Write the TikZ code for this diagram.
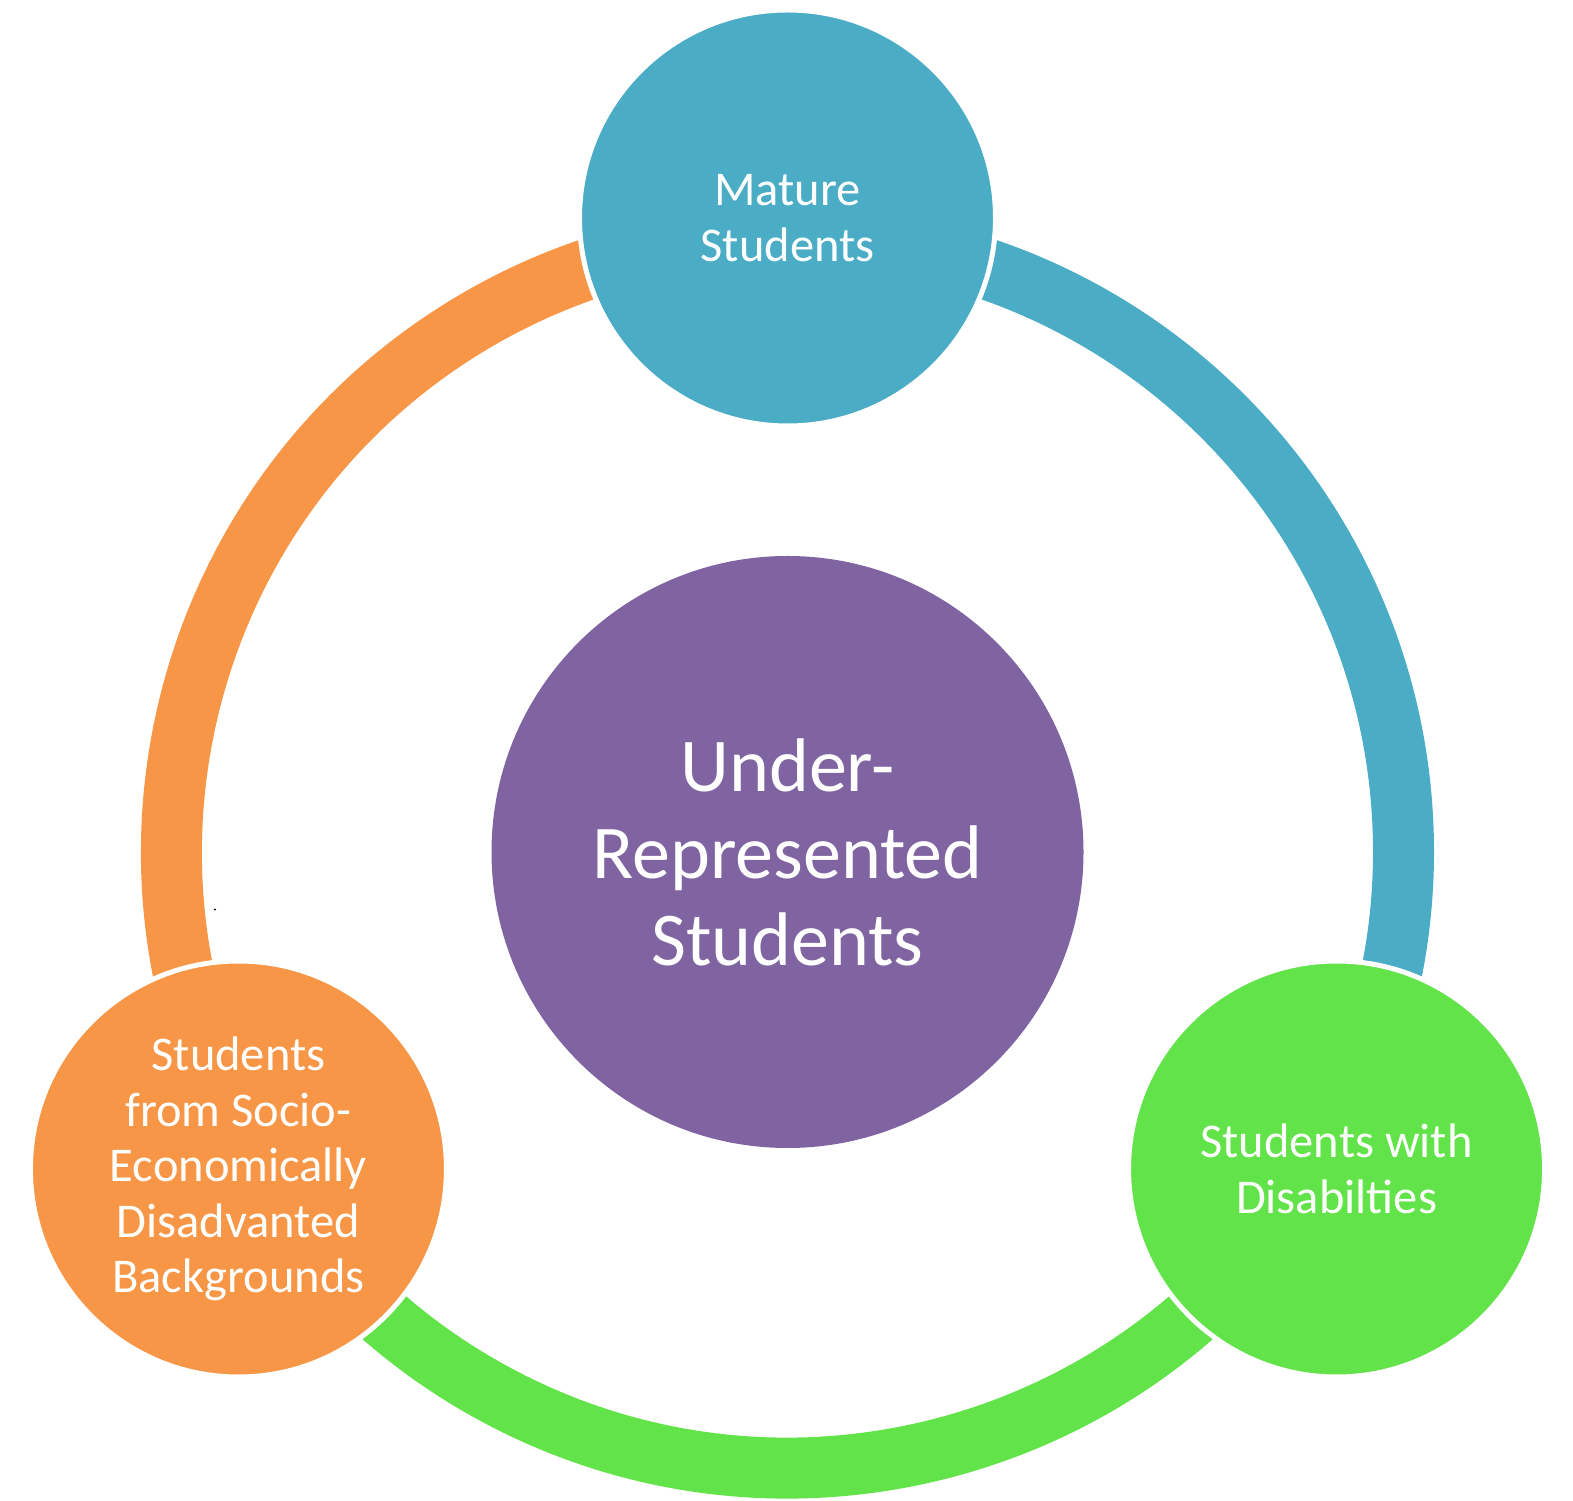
\documentclass[tikz,border=0pt]{standalone}
\usepackage{fontspec}
\setmainfont{Carlito}
\usetikzlibrary{calc}
\definecolor{cblue}{HTML}{4BACC6}
\definecolor{corange}{HTML}{F79646}
\definecolor{cgreen}{HTML}{62E349}
\definecolor{cpurple}{HTML}{8064A2}
\tikzset{
  ringarc/.style={line width=61pt},
  satellite/.style={circle, draw=white, line width=5pt, minimum size=416pt, inner sep=0pt,
    text=white, align=center, font=\fontsize{48.5}{55.5}\selectfont},
  hub/.style={circle, fill=cpurple, minimum size=592pt, inner sep=0pt,
    text=white, align=center, font=\fontsize{76}{87}\selectfont}
}
\begin{document}
\begin{tikzpicture}[x=1pt,y=1pt]
\useasboundingbox (0,0) rectangle (1573,1500);
\coordinate (c) at (787.5,648);
% ring arcs
\draw[ringarc, corange] (c) ++(210:616) arc[start angle=210, end angle=90, radius=616];
\draw[ringarc, cblue] (c) ++(90:616) arc[start angle=90, end angle=-30, radius=616];
\draw[ringarc, cgreen] (c) ++(-30:616) arc[start angle=-30, end angle=-150, radius=616];
% circles
\node[hub] (hub) at (c) {Under-\\Represented\\Students};
\node[satellite, fill=cblue] (mature) at ($(c)+(90:634)$) {Mature\\Students};
\node[satellite, fill=corange] (socio) at ($(c)+(210:634)$) {Students\\from Socio-\\Economically\\Disadvanted\\Backgrounds};
\node[satellite, fill=cgreen] (disab) at ($(c)+(-30:634)$) {Students with\\Disabilties};
% stray dot
\fill[black] (215,590.5) circle (1.2);
\end{tikzpicture}
\end{document}
